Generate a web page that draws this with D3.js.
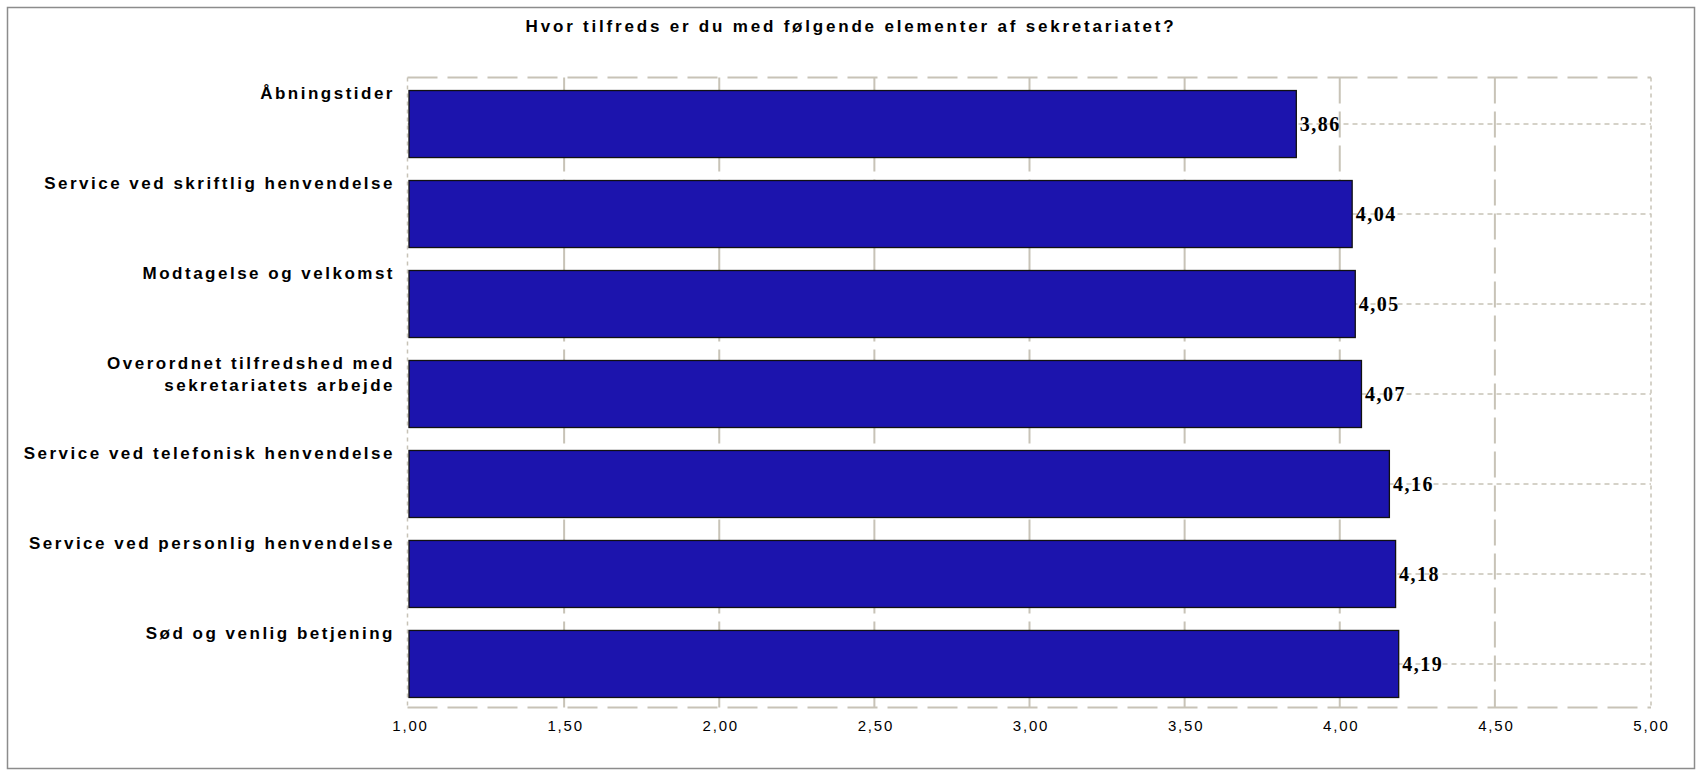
<!DOCTYPE html>
<html>
<head>
<meta charset="utf-8">
<script src="https://cdn.jsdelivr.net/npm/d3@7"></script>
<style>
  html, body { margin: 0; padding: 0; background: #ffffff; }
  svg { display: block; }
</style>
</head>
<body>
<svg id="chart" width="1698" height="771"></svg>
<script>
// ---- data ----
const chartTitle = "Hvor tilfreds er du med følgende elementer af sekretariatet?";
const categories = [
  "Åbningstider",
  "Service ved skriftlig henvendelse",
  "Modtagelse og velkomst",
  "Overordnet tilfredshed med\nsekretariatets arbejde",
  "Service ved telefonisk henvendelse",
  "Service ved personlig henvendelse",
  "Sød og venlig betjening"
];
const values = [3.86, 4.04, 4.05, 4.07, 4.16, 4.18, 4.19];
const tickValues = [1.0, 1.5, 2.0, 2.5, 3.0, 3.5, 4.0, 4.5, 5.0];
const tickLabels = ["1,00", "1,50", "2,00", "2,50", "3,00", "3,50", "4,00", "4,50", "5,00"];
const valueLabels = ["3,86", "4,04", "4,05", "4,07", "4,16", "4,18", "4,19"];

// ---- layout ----
const W = 1698, H = 771;
const plotLeft = 407.5, plotRight = 1651, plotTop = 77.5, plotBottom = 707.5;
const gridColor = "#c8c3b7";

const svg = d3.select("#chart");

// outer border
svg.append("rect")
  .attr("x", 7.5).attr("y", 7.5)
  .attr("width", 1687).attr("height", 761)
  .attr("fill", "#ffffff")
  .attr("stroke", "#8c8c8c").attr("stroke-width", 1.5);

// title
svg.append("text")
  .attr("x", 851).attr("y", 32)
  .attr("text-anchor", "middle")
  .style("font-family", "'Liberation Sans', Arial, sans-serif")
  .style("font-weight", "bold")
  .style("font-size", "17px")
  .style("letter-spacing", "2.8px")
  .attr("fill", "#000")
  .text(chartTitle);

// scales
const x = d3.scaleLinear().domain([1, 5]).range([409, 1650]);
const y = d3.scaleBand()
  .domain(categories)
  .range([plotTop + 1.5, plotBottom + 1.5])
  .paddingInner(0.255)
  .paddingOuter(0.128);

const grid = svg.append("g");

// horizontal dotted lines at bar centres
grid.selectAll("line.h")
  .data(categories)
  .join("line")
  .attr("class", "h")
  .attr("x1", plotLeft).attr("x2", plotRight)
  .attr("y1", d => y(d) + y.bandwidth() / 2)
  .attr("y2", d => y(d) + y.bandwidth() / 2)
  .attr("stroke", gridColor).attr("stroke-width", 1.5)
  .attr("stroke-dasharray", "5,4");

// vertical long-dash gridlines (inner ticks)
grid.selectAll("line.v")
  .data(tickValues.filter(t => t > 1 && t < 5))
  .join("line")
  .attr("class", "v")
  .attr("x1", d => x(d)).attr("x2", d => x(d))
  .attr("y1", plotTop).attr("y2", plotBottom)
  .attr("stroke", gridColor).attr("stroke-width", 2)
  .attr("stroke-dasharray", "26,8");

// frame: top & bottom long dashes, left & right dotted
grid.append("line")
  .attr("x1", plotLeft).attr("x2", plotRight)
  .attr("y1", plotTop).attr("y2", plotTop)
  .attr("stroke", gridColor).attr("stroke-width", 2)
  .attr("stroke-dasharray", "30,10");
grid.append("line")
  .attr("x1", plotLeft).attr("x2", plotRight)
  .attr("y1", plotBottom).attr("y2", plotBottom)
  .attr("stroke", gridColor).attr("stroke-width", 2)
  .attr("stroke-dasharray", "30,10");
[plotLeft, plotRight].forEach(px => {
  grid.append("line")
    .attr("x1", px).attr("x2", px)
    .attr("y1", plotTop).attr("y2", plotBottom)
    .attr("stroke", gridColor).attr("stroke-width", 1.5)
    .attr("stroke-dasharray", "4,4");
});

// bars
svg.append("g").selectAll("rect")
  .data(categories)
  .join("rect")
  .attr("x", x(1))
  .attr("y", d => y(d))
  .attr("width", (d, i) => x(values[i]) - x(1))
  .attr("height", y.bandwidth())
  .attr("fill", "#1c14ad")
  .attr("stroke", "#111111")
  .attr("stroke-width", 1.3);

// value labels
svg.append("g").selectAll("text")
  .data(categories)
  .join("text")
  .attr("x", (d, i) => x(values[i]) + 3.5)
  .attr("y", d => y(d) + y.bandwidth() / 2)
  .attr("dy", "0.34em")
  .style("font-family", "'Liberation Serif', 'Times New Roman', serif")
  .style("font-weight", "bold")
  .style("font-size", "20px")
  .style("letter-spacing", "1.5px")
  .attr("fill", "#000")
  .text((d, i) => valueLabels[i]);

// category labels
const catG = svg.append("g");
catG.selectAll("text")
  .data(categories)
  .join("text")
  .attr("x", 395)
  .attr("y", d => y(d) + 8.5)
  .attr("text-anchor", "end")
  .style("font-family", "'Liberation Sans', Arial, sans-serif")
  .style("font-weight", "bold")
  .style("font-size", "17px")
  .style("letter-spacing", "2.5px")
  .attr("fill", "#000")
  .each(function(d) {
    const lines = d.split("\n");
    d3.select(this).selectAll("tspan")
      .data(lines)
      .join("tspan")
      .attr("x", 395)
      .attr("dy", (l, j) => j === 0 ? 0 : 22)
      .text(l => l);
  });

// x axis labels
const axis = d3.axisBottom(x)
  .tickValues(tickValues)
  .tickFormat((d, i) => tickLabels[i])
  .tickSize(0)
  .tickPadding(0);
const axG = svg.append("g")
  .attr("transform", `translate(0, ${plotBottom})`)
  .call(axis);
axG.select(".domain").remove();
axG.selectAll("text")
  .attr("y", 23.5)
  .attr("dy", 0)
  .attr("dx", "1px")
  .style("font-family", "'Liberation Sans', Arial, sans-serif")
  .style("font-size", "15px")
  .style("letter-spacing", "1.8px")
  .attr("fill", "#000");
</script>
</body>
</html>
